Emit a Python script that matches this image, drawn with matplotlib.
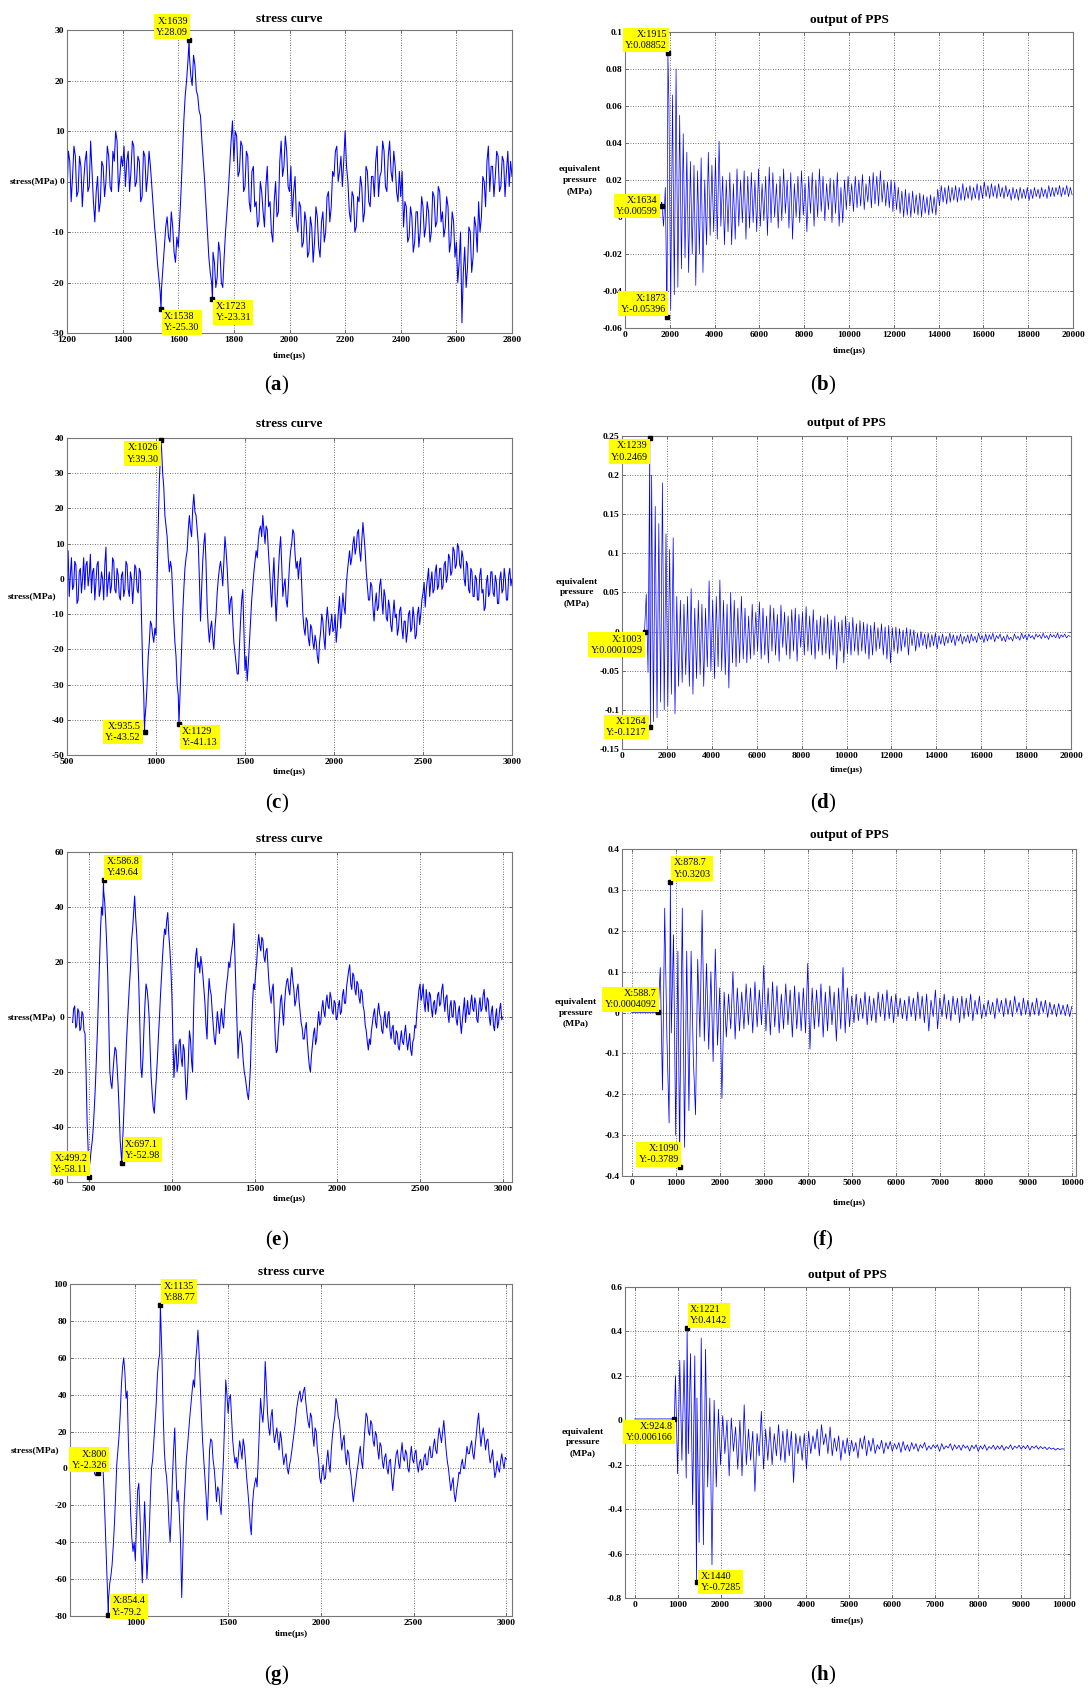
import numpy as np
import matplotlib
matplotlib.use('Agg')
import matplotlib.pyplot as plt
from matplotlib.ticker import FuncFormatter

plt.rcParams['font.family'] = ['Liberation Serif', 'DejaVu Serif']
plt.rcParams['mathtext.fontset'] = 'custom'
plt.rcParams['mathtext.rm'] = 'Liberation Serif'
plt.rcParams['mathtext.bf'] = 'Liberation Serif:bold'

W, H = 1088, 1691

# ---- stress curves (MPa), uniform time base ----
stress_a_t0, stress_a_dt = 1200, 5
stress_a = [
    -3, 6, 4, -4, 1, 7, 5, -3, -2, 5, 3, -5, 0, 4, 6, -2, -1, 8, 2, -4,
    -8, -2, 1, -6, -4, 4, 3, -3, 0, 7, 5, -1, -2, 6, 4, 10, 8, -2, 1, 5,
    3, 7, -1, 4, 6, -2, 2, 8, 7, -1, 0, 5, 4, -4, -3, 6, 5, -2, 1, 6,
    3, -1, -5, -9, -12, -16, -19, -22, -21, -17, -13, -9, -7, -11, -12, -6, -9, -14, -16, -11,
    -13, -8, -2, 5, 12, 17, 20, 24, 25, 21, 19, 25, 23, 18, 17, 14, 13, 8, 4, 0,
    -5, -10, -15, -18, -20, -14, -16, -21, -19, -12, -14, -20, -21, -15, -10, -6, -2, 3, 8, 12,
    4, 10, 9, 1, 2, 8, 7, -2, -1, 6, 5, -4, -6, 2, 3, -5, -4, -9, -8, 0,
    -2, -6, -9, -1, 3, -5, -4, -10, -12, -4, 0, -7, -6, 4, 8, 1, 3, 9, 6, -1,
    -2, 3, -7, -2, 1, -8, -10, -4, -5, -13, -12, -6, -8, -15, -14, -7, -9, -16, -12, -5,
    -7, -13, -15, -8, -6, -12, -10, -3, -2, -8, -5, 2, 1, 6, 7, 0, 2, 5, -1, 4,
    10, 3, 0, -6, -8, -2, -3, -10, -9, -3, -4, 1, -1, -8, -6, 3, 2, -4, -5, 1,
    1, -3, 4, 7, -3, 1, 2, 8, 6, -1, -2, 5, 8, 2, 0, 6, 3, -2, -4, 2,
    -3, 2, -9, -4, -5, -12, -11, -5, -7, -14, -12, -6, -6, -13, -10, -3, -5, -11, -9, -4,
    -6, -12, -10, -2, -3, -9, -8, -1, -2, -8, -6, -11, -9, -3, -5, -14, -12, -6, -8, -15,
    -12, -20, -16, -10, -28, -18, -13, -21, -17, -9, -10, -18, -15, -7, -9, -14, -4, -10, -7, 1,
    0, -5, 4, 7, -2, 3, 3, -3, 1, 6, 5, -2, -1, 5, 4, -3, 2, 6, -1, 4,
    1,
]
tips_a = [('1538', '-25.30'), ('1639', '28.09'), ('1723', '-23.31')]

stress_c_t0, stress_c_dt = 500, 6.25
stress_c = [
    2, 8, -5, 1, 6, -3, -2, 5, 4, -7, -6, 2, 3, -4, 0, 6,
    -3, 4, 5, -2, 1, 7, -4, 2, 3, -6, -1, 4, 5, -5, -3, 2,
    0, -6, 4, 9, -5, -1, 2, -4, -2, 6, 5, -3, -4, 3, 1, -5,
    -6, 1, 2, -5, -3, 5, 4, -3, -5, 2, 0, -7, -2, 4, 3, -3,
    -4, 3, 2, -12, -25, -33, -40, -36, -30, -22, -18, -12, -13, -16, -18, -14,
    -16, 0, 15, 28, 35, 37, 30, 26, 18, 15, 12, 6, 2, 5, 3, -4,
    -12, -18, -22, -30, -33, -38, -30, -20, -10, -3, 3, 6, 8, 14, 18, 14,
    12, 20, 24, 19, 18, 14, 10, 0, -12, -3, 5, 10, 13, 4, -8, -14,
    -18, -14, -12, -17, -20, -14, -10, -4, 0, 3, 5, 2, -2, 5, 12, 8,
    3, -4, -10, -6, -5, -12, -18, -21, -24, -27, -27, -19, -12, -6, -3, -15,
    -26, -22, -29, -24, -18, -12, -6, -2, 2, 5, 8, 6, 11, 14, 15, 12,
    18, 14, 10, 15, 14, 8, 3, -3, -8, 0, 6, -4, -12, -5, 2, 8,
    12, 4, -5, -2, 0, -6, -8, -2, 4, 8, 10, 14, 13, 7, 3, 5,
    0, 4, 6, -2, -10, -14, -16, -11, -12, -17, -19, -13, -14, -18, -20, -16,
    -18, -22, -24, -18, -15, -10, -12, -17, -20, -12, -8, -12, -16, -13, -10, -15,
    -14, -10, -18, -14, -9, -5, -14, -9, -4, -8, -10, -2, 2, 5, 8, 4,
    6, 10, 12, 7, 9, 13, 14, 8, 5, 11, 16, 12, 8, 2, -2, -6,
    -6, -1, -2, -8, -12, -7, -4, -9, -8, -2, 0, -6, -10, -3, -5, -11,
    -12, -6, -8, -13, -15, -10, -6, -11, -10, -16, -14, -9, -8, -14, -17, -12,
    -12, -18, -15, -10, -9, -15, -14, -8, -11, -17, -16, -10, -8, -13, -10, -6,
    -4, -1, -8, -3, 0, 3, -5, -1, 2, -4, -3, 2, 4, -3, -2, 3,
    3, -3, -2, 4, 5, -1, 1, 7, 6, 1, 2, 9, 8, 3, 4, 10,
    9, 4, 3, 8, 6, 0, -2, 5, 4, -3, -4, 3, 2, -5, -5, 1,
    0, -6, -6, 1, 3, -4, -3, -9, -8, -1, 1, -5, -4, 2, 2, -4,
    -5, 1, -1, -7, -7, 0, 2, -4, -3, 3, 0, -6, -6, 1, 3, -2,
    0,
]
tips_c = [('935.5', '-43.52'), ('1026', '39.30'), ('1129', '-41.13')]

stress_e_t0, stress_e_dt = 400, 6.25
stress_e = [
    -2, 3, 4, -4, -3, 3, 2, -5, -4, 2, 1, -5, -6, -20, -38, -48,
    -55, -52, -48, -45, -40, -33, -25, -15, -5, 8, 20, 32, 40, 37, 46, 42,
    35, 26, 15, -2, -20, -24, -26, -20, -15, -11, -12, -18, -25, -34, -45, -50,
    -48, -40, -30, -20, -10, -2, 5, 12, 18, 28, 32, 38, 44, 36, 30, 22,
    12, -3, -18, -22, -15, -4, 5, 12, 10, 6, 0, -12, -22, -28, -33, -35,
    -28, -22, -15, -7, 0, 8, 15, 22, 28, 32, 30, 35, 38, 30, 25, 18,
    8, -8, -22, -14, -10, -20, -17, -9, -8, -15, -18, -10, -12, -22, -30, -24,
    -15, -5, -8, -16, -20, 2, 15, 22, 25, 18, 20, 16, 22, 19, 15, 10,
    5, -3, -8, 6, 14, 10, 8, 2, -3, -8, -10, -4, 2, -2, -6, -1,
    3, -2, -4, 3, 8, 12, 15, 20, 18, 22, 25, 28, 34, 22, 10, -2,
    -15, -8, -5, -7, -10, -16, -20, -22, -25, -28, -30, -25, -18, -5, 5, 12,
    10, 16, 20, 26, 30, 26, 24, 29, 28, 22, 20, 24, 25, 18, 12, 8,
    5, 10, 12, 2, -8, -13, -12, -5, 0, 6, 8, 2, -3, 5, 10, 13,
    14, 10, 8, 14, 18, 13, 10, 4, 6, 10, 12, 6, 2, -2, -4, -8,
    -8, -4, -2, -9, -14, -18, -20, -14, -10, -6, -4, -10, -8, -2, 2, -3,
    -2, 3, 6, 2, 0, 5, 8, 4, 3, 9, 7, 2, 1, 6, 5, -1,
    0, 4, 6, 1, 2, 8, 10, 5, 5, 11, 14, 17, 19, 12, 10, 16,
    15, 10, 8, 13, 12, 7, 5, 10, 9, 4, 2, -3, -5, -9, -12, -8,
    -10, -5, -2, 1, 3, -2, -4, 2, 5, 1, 0, -5, -6, -1, 2, -3,
    -4, 1, 2, -5, -8, -4, -3, -9, -10, -5, -6, -11, -12, -8, -5, -9,
    -10, -6, -3, -8, -12, -9, -6, -12, -14, -9, -8, -3, -4, 2, 6, 10,
    12, 6, 8, 12, 5, 2, 10, 6, 2, 9, 8, 3, 0, 5, 6, 1,
    3, 8, 9, 4, 5, 10, 12, 6, 2, 7, 8, 1, -2, 4, 6, 0,
    0, 6, 5, -1, -3, 2, 4, -2, -6, -1, 3, 7, -2, 2, 6, 1,
    1, 5, 8, 3, 2, 7, 5, -1, -2, 4, 7, 2, 3, 8, 10, 4,
    2, 7, 6, 0, -3, 2, 4, -3, -5, 0, 3, -4, -2, 3, 5, -1,
    0,
]
tips_e = [('499.2', '-58.11'), ('586.8', '49.64'), ('697.1', '-52.98')]

stress_g_t0, stress_g_dt = 775, 6.25
stress_g = [
    0, -3, -4, 1,
    -2, 4, 7, 9, 2, -12, -30, -48, -65, -70, -62, -58, -52, -42, -30, -15,
    2, 10, 18, 30, 45, 55, 60, 52, 38, 42, 15, -5, -25, -38, -45, -40,
    -50, -30, -12, -8, -25, -45, -62, -40, -18, -35, -60, -48, -35, -15, 0, 5,
    15, 25, 35, 50, 58, 62, 80, 60, 30, 10, 0, -5, -15, -30, -40, -25,
    -5, 10, 22, 0, -18, -12, -25, -40, -70, -45, -20, -8, 5, 12, 20, 28,
    35, 42, 48, 44, 58, 65, 75, 62, 45, 30, 15, 5, -5, -15, -28, -12,
    10, 16, 15, 5, 0, -8, -18, -10, -12, -20, -25, -8, 5, 25, 48, 40,
    30, 38, 40, 28, 15, 8, 3, 6, 0, 8, 15, 10, 5, 16, 12, 4,
    -5, -12, -20, -30, -36, -20, -12, -8, -5, -10, 5, 22, 38, 30, 25, 35,
    58, 45, 30, 22, 18, 28, 32, 20, 14, 18, 22, 15, 10, 20, 16, 8,
    2, 6, 8, 0, -3, 2, 5, 10, 15, 20, 25, 32, 36, 40, 42, 36,
    38, 42, 44, 36, 30, 25, 22, 30, 28, 18, 12, 22, 20, 10, 5, -5,
    -8, -2, 2, -6, -5, 4, 10, 2, -2, 10, 18, 24, 28, 38, 35, 28,
    26, 18, 10, 15, 18, 8, 2, 10, 8, 0, -4, -12, -18, -12, -8, -2,
    2, 8, 12, 4, 0, 12, 22, 30, 28, 20, 18, 26, 24, 15, 12, 20,
    18, 10, 5, 14, 12, 4, 0, 6, 8, 0, -3, 4, 5, -5, -12, -4,
    2, 8, 10, 3, 0, 8, 14, 6, 4, 10, 8, 0, -2, 6, 12, 5,
    3, 8, 10, 2, -2, 3, 5, -1, 0, 6, 8, 2, 2, 9, 12, 6,
    6, 12, 16, 10, 8, 16, 22, 18, 14, 20, 26, 18, 10, 4, 0, -6,
    -12, -8, -5, -14, -18, -12, -8, -2, -3, 2, 5, 0, 0, 6, 12, 8,
    8, 12, 15, 8, 5, 12, 18, 25, 30, 20, 12, 18, 22, 16, 10, 15,
    16, 8, 3, 6, 10, 2, -5, -2, 4, 0, -2, 4, 8, 3, 0, 6,
    5,
]
tips_g = [('800', '-2.326'), ('854.4', '-79.2'), ('1135', '88.77')]

# ---- PPS output, values in 1e-3 MPa ----
pps_b_t0, pps_b_dt = 1640, 80
pps_b = [
    8, -5, 16, -40, 62, -50, 66, -42, 80, -38,
    55, -28, 45, -22, 35, -30, 30, -20, 28, -37,
    25, -20, 32, -30, 20, -15, 35, -10, 28, -8,
    32, -12, 41, -5, 22, -15, 20, -8, 24, -15,
    18, -12, 26, -5, 20, -3, 25, -12, 22, -6,
    24, -3, 20, -8, 26, -5, 18, -2, 22, -10,
    27, -3, 24, 0, 18, -6, 22, -2, 26, 2,
    20, -6, 24, -12, 18, 0, 22, -3, 25, 1,
    18, -8, 22, 2, 24, -5, 20, 0, 26, 3,
    22, -2, 18, 4, 21, -3, 20, 2, 24, -5,
    16, -3, 20, 4, 22, 6, 18, 3, 22, 5,
    20, 6, 23, 4, 18, 8, 22, 5, 24, 7,
    22, 6, 25, 8, 20, 6, 19, 5, 20, 3,
    19, 4, 16, 2, 14, 0, 15, 1, 13, 0,
    14, 2, 12, 1, 13, 0, 12, 2, 11, 1,
    12, 2, 11, 1, 15, 6, 17, 8, 16, 7,
    17, 8, 16, 9, 17, 8, 16, 9, 18, 9,
    16, 10, 17, 9, 16, 10, 18, 9, 17, 10,
    19, 11, 17, 10, 18, 11, 17, 10, 18, 11,
    16, 10, 17, 11, 15, 9, 16, 10, 15, 9,
    16, 10, 15, 10, 16, 9, 15, 10, 16, 11,
    15, 10, 16, 11, 15, 10, 17, 11, 16, 11,
    16, 12, 17, 11, 16, 12, 17, 11, 16, 12,
]
tips_b = [('1634', '0.00599'), ('1873', '-0.05396'), ('1915', '0.08852')]

pps_d_t0, pps_d_dt = 1000, 80
pps_d = [
    0, 48, -52, 20, 200, -115, 160, -110, 138, -90,
    190, -100, 125, -95, 105, -80, 120, -105, 45, -70,
    40, -65, 35, -55, 45, -70, 55, -80, 30, -60,
    40, -55, 35, -70, 30, -45, 65, -50, 40, -60,
    45, -45, 66, -50, 40, -55, 35, -72, 50, -40,
    40, -45, 30, -40, 45, -35, 30, -40, 20, -35,
    35, -30, 25, -25, 38, -35, 30, -30, 20, -40,
    34, -25, 30, -30, 22, -38, 34, -20, 25, -30,
    20, -35, 28, -25, 30, -38, 22, -20, 25, -30,
    32, -25, 20, -30, 28, -35, 15, -25, 20, -30,
    18, -28, 22, -35, 15, -30, 20, -48, 12, -25,
    15, -40, 20, -28, 12, -30, 18, -25, 10, -30,
    14, -25, 12, -28, 10, -35, 8, -30, 12, -25,
    5, -22, 10, -30, 6, -35, 8, -40, 5, -25,
    6, -28, 4, -25, 2, -20, 5, -30, 3, -18,
    2, -25, -2, -20, 0, -18, -3, -22, -2, -20,
    -4, -18, -2, -22, -5, -16, -3, -18, -6, -15,
    -2, -14, -4, -18, -5, -12, -3, -16, -6, -13,
    -4, -15, -3, -12, -6, -14, -2, -10, -5, -14,
    -3, -12, -4, -10, -2, -13, -5, -9, -3, -12,
    -6, -13, -4, -10, -7, -12, -3, -9, -6, -11,
    -2, -9, -4, -11, -3, -8, -5, -10, -3, -7,
    -4, -9, -2, -8, -5, -10, -3, -7, -4, -8,
    -2, -9, -4, -7, -3, -8, -5, -6,
]
tips_d = [('1003', '0.0001029'), ('1239', '0.2469'), ('1264', '-0.1217')]

pps_f_t0, pps_f_dt = 0, 50
pps_f = [
    0.4, 0.4, 0.4, 0.4, 0.4, 0.4, 0.4, 0.4, 0.4, 0.4,
    0.4, 0.4, 0.4, 110, -190, 255, -60, -270, -50, 190,
    -300, 150, -200, 255, -330, 150, -240, 150, -110, -250,
    130, -60, 250, -70, 120, -90, 100, -120, 155, -80,
    60, -210, 50, -60, 45, -40, 100, -65, 60, -45,
    50, -40, 70, -30, 60, -50, 75, -35, 55, -30,
    115, -45, 60, -55, 75, -35, 65, -50, 45, -40,
    70, -30, 55, -60, 65, -40, 50, -45, 60, -50,
    120, -90, 60, -40, 55, -35, 70, -60, 50, -45,
    65, -30, 50, -70, 60, -40, 110, -50, 60, -35,
    40, -25, 45, -20, 35, -15, 50, -30, 40, -20,
    35, -25, 50, -10, 45, -20, 55, -15, 40, -25,
    45, -10, 35, -15, 30, -20, 40, -10, 35, -20,
    50, -15, 40, -25, 45, -45, 30, -10, 55, -40,
    35, -10, 45, -15, 30, -20, 40, -5, 35, -25,
    40, -15, 35, -10, 45, -20, 30, -5, 40, -15,
    20, -10, 30, -5, 25, -15, 35, 0, 30, -10,
    35, -5, 30, -10, 40, 0, 25, -8, 35, -5,
    30, -10, 25, -5, 35, -8, 28, 0, 30, -12,
    25, -5, 20, -10, 22, -5, 18, -8, 20, -10,
    15,
]
tips_f = [('588.7', '0.0004092'), ('878.7', '0.3203'), ('1090', '-0.3789')]

pps_h_t0, pps_h_dt = 0, 50
pps_h = [
    6, 6, 6, 6, 6, 6, 6, 6, 6, 6,
    6, 6, 6, 6, 6, 6, 6, 6, 6, 200,
    -240, 270, -180, 270, -260, -150, 300, -380, 290, 100,
    -550, 370, -560, 320, -300, 100, -650, 90, -300, 50,
    -200, 20, -150, 0, -250, 10, -140, -30, -220, 0,
    -250, 70, -200, -40, -180, -50, -320, -60, -160, 40,
    -220, -40, -180, -30, -200, -60, -160, -20, -180, -50,
    -190, -40, -160, -50, -280, -60, -150, -70, -180, -60,
    -220, -50, -150, -70, -130, -40, -160, -20, -110, -60,
    -150, -30, -160, -80, -140, -70, -180, -90, -150, -80,
    -160, -90, -140, -100, -170, -80, -130, -70, -160, -90,
    -140, -80, -150, -110, -130, -90, -150, -100, -130, -95,
    -140, -105, -130, -100, -145, -95, -135, -110, -140, -100,
    -130, -105, -140, -110, -125, -100, -135, -115, -130, -110,
    -125, -110, -140, -105, -130, -115, -125, -105, -135, -110,
    -128, -112, -135, -110, -125, -115, -138, -112, -128, -110,
    -140, -115, -130, -110, -135, -118, -128, -112, -132, -115,
    -130, -112, -135, -118, -128, -110, -132, -116, -126, -112,
    -130, -115, -128, -112, -134, -116, -126, -114, -130, -118,
    -128, -120, -132, -122, -130, -125, -134, -126, -132, -128,
    -130,
]
tips_h = [('924.8', '0.006166'), ('1221', '0.4142'), ('1440', '-0.7285')]


def series(t0, dt, vals, tips, scale=1.0):
    t = t0 + dt * np.arange(len(vals))
    v = np.asarray(vals, dtype=float) * scale
    tx = np.array([float(x) for x, _ in tips])
    ty = np.array([float(y) for _, y in tips])
    x = np.concatenate([t, tx])
    y = np.concatenate([v, ty])
    order = np.argsort(x, kind='stable')
    return x[order], y[order]


# where each datatip box sits relative to its point: ha, va, pixel offset
TIP_POS = {
    'ul': ('right', 'bottom', (-1, 3)),
    'ur': ('left', 'bottom', (3, 3)),
    'll': ('right', 'top', (-2, -3)),
    'lr': ('left', 'top', (3, -3)),
    'l': ('right', 'center', (-4, 0)),
    'r': ('left', 'center', (4, 0)),
    'ul+': ('right', 'bottom', (9, 3)),
    'r+': ('left', 'center', (4, 8)),
}

fmt = FuncFormatter(lambda v, p: '%g' % (round(v, 6) + 0.0))

panels = [
    dict(box=(67, 30, 512, 333), data=series(stress_a_t0, stress_a_dt, stress_a, tips_a),
         tips=tips_a, where=['lr', 'ul', 'lr'], xlim=(1200, 2800), xticks=np.arange(1200, 2801, 200),
         ylim=(-30, 30), yticks=np.arange(-30, 31, 10), title='stress curve', ylabel='stress(MPa)',
         ylx=34, xly=356, tly=19, letter='a', lxy=(277, 385), lw=0.75),
    dict(box=(625, 32, 1073, 328), data=series(pps_b_t0, pps_b_dt, pps_b, tips_b, 1e-3),
         tips=tips_b, where=['l', 'ul', 'ul'], xlim=(0, 20000), xticks=np.arange(0, 20001, 2000),
         ylim=(-0.06, 0.1), yticks=np.linspace(-0.06, 0.1, 9), title='output of PPS',
         ylabel='equivalent\npressure\n(MPa)', ylx=580, xly=351, tly=20, letter='b', lxy=(823, 385),
         lw=0.5),
    dict(box=(67, 438, 512, 755), data=series(stress_c_t0, stress_c_dt, stress_c, tips_c),
         tips=tips_c, where=['l', 'll', 'lr'], xlim=(500, 3000), xticks=np.arange(500, 3001, 500),
         ylim=(-50, 40), yticks=np.arange(-50, 41, 10), title='stress curve', ylabel='stress(MPa)',
         ylx=32, xly=772, tly=424, letter='c', lxy=(277, 803), lw=0.75),
    dict(box=(622, 436, 1071, 749), data=series(pps_d_t0, pps_d_dt, pps_d, tips_d, 1e-3),
         tips=tips_d, where=['ll', 'll', 'l'], xlim=(0, 20000), xticks=np.arange(0, 20001, 2000),
         ylim=(-0.15, 0.25), yticks=np.linspace(-0.15, 0.25, 9), title='output of PPS',
         ylabel='equivalent\npressure\n(MPa)', ylx=577, xly=770, tly=423, letter='d', lxy=(823, 803),
         lw=0.5),
    dict(box=(67, 852, 512, 1182), data=series(stress_e_t0, stress_e_dt, stress_e, tips_e),
         tips=tips_e, where=['ul', 'ur', 'ur'], xlim=(366, 3056), xticks=np.arange(500, 3001, 500),
         ylim=(-60, 60), yticks=np.arange(-60, 61, 20), title='stress curve', ylabel='stress(MPa)',
         ylx=32, xly=1199, tly=839, letter='e', lxy=(277, 1240), lw=0.75),
    dict(box=(622, 849, 1076, 1176), data=series(pps_f_t0, pps_f_dt, pps_f, tips_f, 1e-3),
         tips=tips_f, where=['ul', 'ur', 'ul'], xlim=(-220, 10094), xticks=np.arange(0, 10001, 1000),
         ylim=(-0.4, 0.4), yticks=np.linspace(-0.4, 0.4, 9), title='output of PPS',
         ylabel='equivalent\npressure\n(MPa)', ylx=576, xly=1203, tly=835, letter='f', lxy=(823, 1240),
         lw=0.55),
    dict(box=(70, 1284, 512, 1616), data=series(stress_g_t0, stress_g_dt, stress_g, tips_g),
         tips=tips_g, where=['ul+', 'r+', 'ur'], xlim=(648, 3030), xticks=np.arange(1000, 3001, 500),
         ylim=(-80, 100), yticks=np.arange(-80, 101, 20), title='stress curve', ylabel='stress(MPa)',
         ylx=35, xly=1634, tly=1272, letter='g', lxy=(277, 1675), lw=0.7),
    dict(box=(625, 1287, 1070, 1598), data=series(pps_h_t0, pps_h_dt, pps_h, tips_h, 1e-3),
         tips=tips_h, where=['ll', 'ur', 'r'], xlim=(-225, 10136), xticks=np.arange(0, 10001, 1000),
         ylim=(-0.8, 0.6), yticks=np.linspace(-0.8, 0.6, 8), title='output of PPS',
         ylabel='equivalent\npressure\n(MPa)', ylx=583, xly=1621, tly=1275, letter='h', lxy=(823, 1675),
         lw=0.55),
]

fig = plt.figure(figsize=(W / 100, H / 100), dpi=100)
fig.patch.set_facecolor('white')

for p in panels:
    l, t, r, b = p['box']
    ax = fig.add_axes([l / W, 1 - b / H, (r - l) / W, (b - t) / H])
    x, y = p['data']
    ax.plot(x, y, color='#0000ff', lw=p['lw'])
    ax.set_xlim(*p['xlim'])
    ax.set_ylim(*p['ylim'])
    ax.set_xticks(p['xticks'])
    ax.set_yticks(p['yticks'])
    ax.yaxis.set_major_formatter(fmt)
    ax.grid(True, color='#444444', linestyle=(0, (1, 2)), lw=0.6)
    ax.tick_params(direction='in', length=2.5, width=0.6, labelsize=6.8, pad=2,
                   top=True, right=True, color='#555555')
    for lab in ax.get_xticklabels() + ax.get_yticklabels():
        lab.set_fontweight('bold')
    for s in ax.spines.values():
        s.set_color('#777777')
        s.set_linewidth(0.8)

    for (tx, ty), w in zip(p['tips'], p['where']):
        ha, va, off = TIP_POS[w]
        ax.plot(float(tx), float(ty), 's', color='black', ms=3.5, zorder=5, clip_on=False)
        ax.annotate('X:%s\nY:%s' % (tx, ty), xy=(float(tx), float(ty)), xytext=off,
                    textcoords='offset pixels', ha=ha, va=va, fontsize=7.3, linespacing=1.3,
                    bbox=dict(boxstyle='square,pad=0.22', fc='#ffff00', ec='none'),
                    annotation_clip=False, zorder=6)

    xc = (l + r) / 2
    fig.text(xc / W, 1 - p['tly'] / H, p['title'], ha='center', va='center',
             fontsize=9.5, fontweight='bold')
    fig.text(xc / W, 1 - p['xly'] / H, 'time(\u03bcs)', ha='center', va='center',
             fontsize=6.8, fontweight='bold')
    fig.text(p['ylx'] / W, 1 - (t + b) / 2 / H, p['ylabel'], ha='center', va='center',
             fontsize=6.8, fontweight='bold', linespacing=1.5)
    lx, ly = p['lxy']
    fig.text(lx / W, 1 - ly / H, r'($\mathbf{%s}$)' % p['letter'], ha='center', va='center',
             fontsize=15)

fig.savefig('out.png', dpi=100)
